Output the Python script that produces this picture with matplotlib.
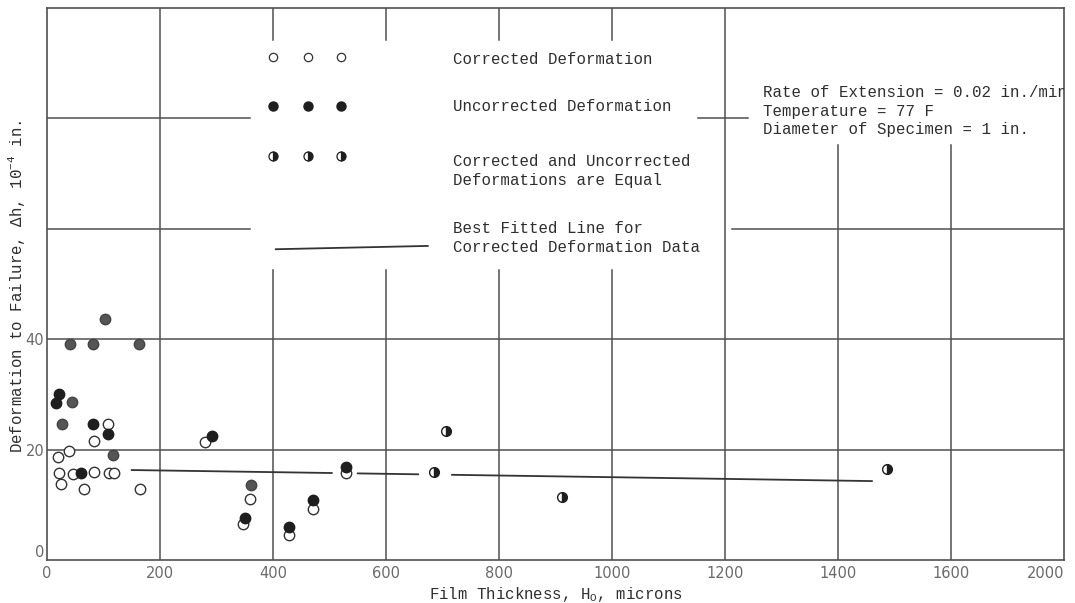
import numpy as np
import matplotlib
matplotlib.use("Agg")
import matplotlib.pyplot as plt

# typewriter look for the text, mathtext in the same font
plt.rcParams["mathtext.fontset"] = "custom"
plt.rcParams["mathtext.rm"] = "Liberation Mono"
plt.rcParams["mathtext.it"] = "Liberation Mono"

# corrected deformation (open circles)
corr_x = [108, 83, 39, 19.5, 21, 46, 83, 110, 119, 25, 65, 165, 280, 359, 347, 428, 471, 530]
corr_y = [24.6, 21.6, 19.7, 18.7, 15.8, 15.6, 15.9, 15.8, 15.8, 13.8, 12.9, 12.9, 21.4, 11.0, 6.5, 4.5, 9.2, 15.8]

# uncorrected deformation (filled circles), scan shows two tones
uncorr_grey_x = [103, 41, 81, 163, 44, 26.5, 117, 362]
uncorr_grey_y = [43.7, 39.1, 39.1, 39.1, 28.6, 24.6, 19.0, 13.6]
uncorr_dark_x = [21, 16, 81, 108, 60, 292, 350, 429, 471, 530]
uncorr_dark_y = [30.1, 28.4, 24.6, 22.8, 15.8, 22.5, 7.6, 5.9, 10.9, 16.9]

# corrected = uncorrected (half filled)
equal_x = [685, 706, 912, 1486]
equal_y = [16.0, 23.4, 11.4, 16.4]

# best fitted line and the gaps left around points
fit_x = [150, 1460]
fit_y = [16.3, 14.3]
fit_gaps = [(504, 550), (657, 717)]

xtick_vals = [0, 200, 400, 600, 800, 1000, 1200, 1400, 1600, 1800]
xtick_labels = ["0", "200", "400", "600", "800", "1000", "1200", "1400", "1600", "2000"]
ytick_vals = [0, 20, 40]
ytick_labels = ["0", "20", "40"]

mono = "Liberation Mono"
gc = "#505050"
tc = "#2e2e2e"

fig = plt.figure(figsize=(10.75, 6.03), dpi=100)
ax = fig.add_axes([0.0437, 0.0713, 0.946, 0.9154])
ax.set_xlim(0, 1800)
ax.set_ylim(0, 100)

# grid, broken where the legend text sits
lw = 1.1
ax.axhline(20, color=gc, lw=lw)
ax.axhline(40, color=gc, lw=lw)
ax.axhline(60, 0, 0.2, color=gc, lw=lw)
ax.axhline(60, 0.674, 1, color=gc, lw=lw)
ax.axhline(80, 0, 0.2, color=gc, lw=lw)
ax.axhline(80, 0.64, 0.689, color=gc, lw=lw)
ax.axvline(200, color=gc, lw=lw)
ax.axvline(1200, color=gc, lw=lw)
for xv in [400, 600, 800, 1000]:
    ax.axvline(xv, 0, 0.525, color=gc, lw=lw)
    ax.axvline(xv, 0.942, 1, color=gc, lw=lw)
for xv in [1400, 1600]:
    ax.axvline(xv, 0, 0.752, color=gc, lw=lw)

for s in ax.spines.values():
    s.set_color(gc)
    s.set_linewidth(1.2)

# fitted line, drawn in pieces
edges = [fit_x[0]] + [v for g in fit_gaps for v in g] + [fit_x[1]]
for a, b in zip(edges[0::2], edges[1::2]):
    ax.plot([a, b], np.interp([a, b], fit_x, fit_y), color="#333333", lw=1.3)

ms = 7.5
ax.plot(corr_x, corr_y, "o", ms=ms, mfc="white", mec="#333333", mew=1.0, ls="none")
ax.plot(uncorr_grey_x, uncorr_grey_y, "o", ms=ms, mfc="#555555", mec="#444444", mew=1.0, ls="none")
ax.plot(uncorr_dark_x, uncorr_dark_y, "o", ms=ms, mfc="#1e1e1e", mec="#1e1e1e", mew=1.0, ls="none")
ax.plot(equal_x, equal_y, "o", ms=7, fillstyle="right", mfc="#1e1e1e", mfcalt="white",
        mec="#1e1e1e", mew=1.0, ls="none")

# hand drawn legend
leg_x = [400, 462, 520]
ax.plot(leg_x, [91.1] * 3, "o", ms=6, mfc="white", mec="#333333", mew=0.9, ls="none")
ax.plot(leg_x, [82.2] * 3, "o", ms=6.5, mfc="#1e1e1e", mec="#1e1e1e", ls="none")
ax.plot(leg_x, [73.2] * 3, "o", ms=6.5, fillstyle="right", mfc="#1e1e1e", mfcalt="white",
        mec="#1e1e1e", mew=0.9, ls="none")
ax.plot([405, 674], [56.3, 56.9], color="#333333", lw=1.3)

fs = 11.3
ax.text(718, 90.6, "Corrected Deformation", family=mono, fontsize=fs, color=tc, va="center")
ax.text(718, 82.1, "Uncorrected Deformation", family=mono, fontsize=fs, color=tc, va="center")
ax.text(718, 70.5, "Corrected and Uncorrected\nDeformations are Equal", family=mono,
        fontsize=fs, color=tc, va="center", linespacing=1.3)
ax.text(718, 58.3, "Best Fitted Line for\nCorrected Deformation Data", family=mono,
        fontsize=fs, color=tc, va="center", linespacing=1.3)
ax.text(1267, 81.3, "Rate of Extension = 0.02 in./min\nTemperature = 77 F\nDiameter of Specimen = 1 in.",
        family=mono, fontsize=fs, color=tc, va="center", linespacing=1.3, clip_on=True)

ax.set_xticks(xtick_vals)
ax.set_xticklabels(xtick_labels)
ax.set_yticks(ytick_vals)
ax.set_yticklabels(ytick_labels)
ax.tick_params(length=0, labelsize=10.5, labelcolor="#6a6a6a", pad=4)
ax.tick_params(axis="y", pad=2)
ax.get_xticklabels()[-1].set_horizontalalignment("right")
ax.get_yticklabels()[0].set_verticalalignment("bottom")

ax.set_xlabel("Film Thickness, H$_{\\rm O}$, microns", family=mono, fontsize=fs, color=tc, labelpad=3)
ax.set_ylabel("Deformation to Failure, $\\Delta$h, 10$^{-4}$ in.", family=mono, fontsize=fs,
              color=tc, labelpad=4)
ax.yaxis.set_label_coords(-0.02, 0.495)

fig.savefig("out.png", dpi=100)
